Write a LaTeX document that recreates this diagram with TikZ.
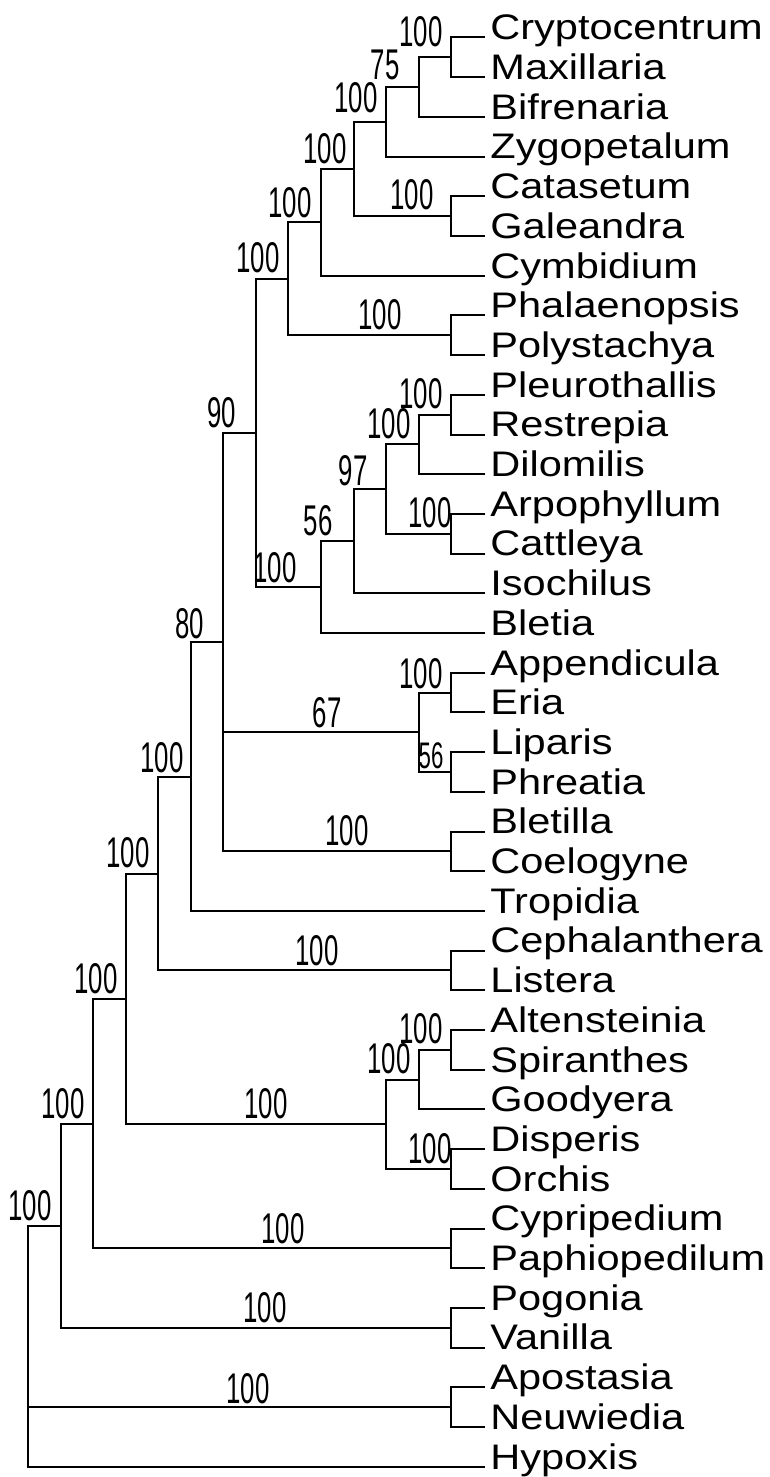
\documentclass[tikz,border=0pt]{standalone}
\usepackage{fontspec}
\setmainfont{Liberation Sans}
\newfontfamily\leaffont[FakeStretch=1.17]{Liberation Sans}
\newfontfamily\numfont[FakeStretch=0.6]{Liberation Sans}
\begin{document}
\begin{tikzpicture}[x=1pt,y=-1pt,
  branch/.style={line width=2pt, line cap=rect},
  leaf/.style={anchor=base west, inner sep=0pt, xshift=6.5pt, yshift=-2.3pt,
    font=\leaffont\fontsize{35.5}{35.5}\selectfont},
  bs/.style={anchor=base, inner sep=0pt, font=\numfont\fontsize{43}{43}\selectfont},
  bssmall/.style={anchor=base, inner sep=0pt, font=\numfont\fontsize{37}{37}\selectfont}]
\fill[white] (0,0) rectangle (769,1477);
\useasboundingbox (0,0) rectangle (769,1477);
% leaves
\foreach \n [count=\i from 0] in {Cryptocentrum,Maxillaria,Bifrenaria,Zygopetalum,Catasetum,Galeandra,Cymbidium,Phalaenopsis,Polystachya,Pleurothallis,Restrepia,Dilomilis,Arpophyllum,Cattleya,Isochilus,Bletia,Appendicula,Eria,Liparis,Phreatia,Bletilla,Coelogyne,Tropidia,Cephalanthera,Listera,Altensteinia,Spiranthes,Goodyera,Disperis,Orchis,Cypripedium,Paphiopedilum,Pogonia,Vanilla,Apostasia,Neuwiedia,Hypoxis}{
  \coordinate (t\i) at (483.7,{37.5+39.7*\i});
  \node[leaf] (n\i) at (t\i) {\n};
}
% internal nodes
\coordinate (CM)  at (451.15,57.35);
\coordinate (B)   at (418.6,87.125);
\coordinate (C)   at (386.05,121.86);
\coordinate (CG)  at (451.15,216.15);
\coordinate (D)   at (353.5,169.0);
\coordinate (E)   at (320.95,222.35);
\coordinate (PP)  at (451.15,335.25);
\coordinate (F)   at (288.4,278.8);
\coordinate (PR)  at (451.15,414.65);
\coordinate (PRD) at (418.6,444.43);
\coordinate (AC)  at (451.15,533.75);
\coordinate (N97) at (386.05,489.09);
\coordinate (N56) at (353.5,541.2);
\coordinate (G)   at (320.95,587.1);
\coordinate (N90) at (255.85,432.95);
\coordinate (AE)  at (451.15,692.55);
\coordinate (LP)  at (451.15,771.95);
\coordinate (N67) at (418.6,732.25);
\coordinate (BC)  at (451.15,851.35);
\coordinate (N80) at (223.3,642.15);
\coordinate (H)   at (190.75,776.5);
\coordinate (CL)  at (451.15,970.45);
\coordinate (I)   at (158.2,873.5);
\coordinate (AS)  at (451.15,1049.85);
\coordinate (ASG) at (418.6,1079.6);
\coordinate (DO)  at (451.15,1168.95);
\coordinate (J)   at (386.05,1124.3);
\coordinate (K)   at (125.65,998.9);
\coordinate (CP)  at (451.15,1248.35);
\coordinate (L)   at (93.1,1123.6);
\coordinate (PV)  at (451.15,1327.75);
\coordinate (M)   at (60.55,1225.7);
\coordinate (AN)  at (451.15,1407.15);
\coordinate (R)   at (28,1225.7);
% branches
\foreach \p/\c in {CM/t0,CM/t1,B/CM,B/t2,C/B,C/t3,CG/t4,CG/t5,D/C,D/CG,E/D,E/t6,
  PP/t7,PP/t8,F/E,F/PP,PR/t9,PR/t10,PRD/PR,PRD/t11,AC/t12,AC/t13,N97/PRD,N97/AC,
  N56/N97,N56/t14,G/N56,G/t15,N90/F,N90/G,AE/t16,AE/t17,LP/t18,LP/t19,N67/AE,N67/LP,
  BC/t20,BC/t21,N80/N90,N80/N67,N80/BC,H/N80,H/t22,CL/t23,CL/t24,I/H,I/CL,
  AS/t25,AS/t26,ASG/AS,ASG/t27,DO/t28,DO/t29,J/ASG,J/DO,K/I,K/J,CP/t30,CP/t31,
  L/K,L/CP,PV/t32,PV/t33,M/L,M/PV,AN/t34,AN/t35,R/M,R/AN,R/t36}
  \draw[branch] (\p) |- (\c);
% support values
\foreach \x/\y/\t [count=\i] in {421/47/100,385/80/75,356/113/100,325/163/100,412/209/100,
  290/217/100,380/329/100,258/272/100,421/408/100,389/438/100,430/527/100,353/485/97,
  318/535/56,275/582/100,222/427/90,421/688/100,327/727/67,347/845/100,
  190/638/80,162/772/100,317/965/100,128/867/100,421/1043/100,389/1073/100,430/1163/100,
  266/1118/100,96/993/100,283/1243/100,63/1118/100,265/1322/100,30/1220/100,248/1403/100}
  \node[bs] (b\i) at (\x,\y) {\t};
\node[bssmall] (b56lp) at (431,768.5) {56};
\end{tikzpicture}
\end{document}
